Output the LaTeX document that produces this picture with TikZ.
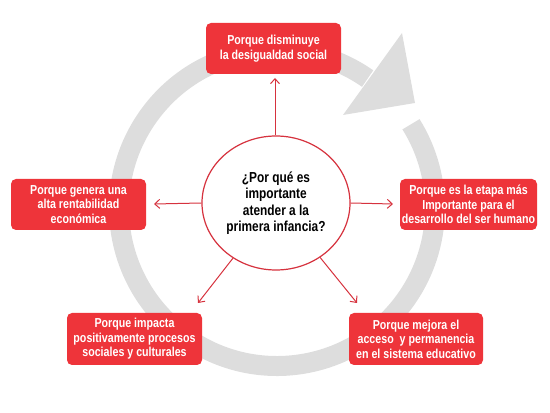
\documentclass[tikz,border=0pt]{standalone}
\usepackage{fontspec}
\setmainfont{Liberation Sans}
\newfontfamily\narrowfont{Liberation Sans}[FakeStretch=0.82]
\usetikzlibrary{shapes.geometric,arrows.meta}
\definecolor{boxred}{RGB}{238,52,58}
\definecolor{linered}{RGB}{214,50,62}
\definecolor{ringgray}{RGB}{221,221,221}
\begin{document}
\begin{tikzpicture}[x=1pt,y=1pt,
  reason/.style={rectangle, rounded corners=5pt, fill=boxred, text=white,
    font=\narrowfont\bfseries\fontsize{13}{14.5}\selectfont, align=center,
    inner sep=0pt, minimum height=51pt},
  arr/.style={draw=linered, line width=1pt, -{Straight Barb[length=5pt,width=9pt]}},
  ring/.style={draw=ringgray, line width=20pt},
  ringhead/.style={fill=ringgray}
]
\useasboundingbox (0,0) rectangle (550,413);
% gray circular arrow
\draw[ring] (277,205) ++(55:158) arc[start angle=55, end angle=392, radius=158];
\fill[ringhead] (343,298) -- (402,380) -- (415,310) -- cycle;
% central question
\node[ellipse, draw=linered, line width=1.2pt, fill=white, minimum width=148pt,
  minimum height=134pt, inner sep=0pt, align=center,
  font=\narrowfont\bfseries\fontsize{14.5}{16.5}\selectfont] (c) at (276,210)
  {¿Por qué es\\importante\\atender a la\\primera infancia?};
% reasons
\node[reason, minimum width=135pt] (top) at (273.5,364.5) {Porque disminuye\\la desigualdad social};
\node[reason, minimum width=135pt] (left) at (78.5,208.5) {Porque genera una\\alta rentabilidad\\económica};
\node[reason, minimum width=137pt] (right) at (468.5,208.5) {Porque es la etapa más\\Importante para el\\desarrollo del ser humano};
\node[reason, minimum width=135pt, minimum height=52pt] (bl) at (134.5,74) {Porque impacta\\positivamente procesos\\sociales y culturales};
\node[reason, minimum width=134pt, minimum height=52pt] (br) at (416,74) {Porque mejora el\\acceso \ y permanencia\\en el sistema educativo};
% arrow tips
\coordinate (tT) at (275,335);
\coordinate (tL) at (154,209);
\coordinate (tR) at (393,209);
\coordinate (tBL) at (198,110);
\coordinate (tBR) at (357,110);
\draw[arr] (c.north -| tT) -- (tT);
\draw[arr] (c.west) -- (tL);
\draw[arr] (c.east) -- (tR);
\draw[arr] (c) -- (tBL);
\draw[arr] (c) -- (tBR);
\end{tikzpicture}
\end{document}
